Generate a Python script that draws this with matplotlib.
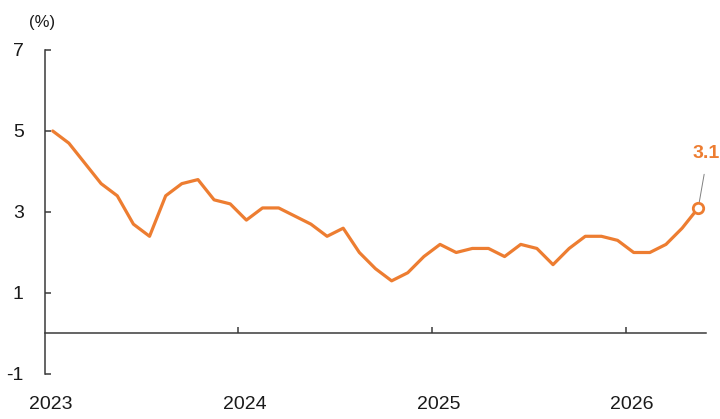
import matplotlib
matplotlib.use("Agg")
import matplotlib.pyplot as plt
import matplotlib.transforms as mtransforms
import numpy as np

plt.rcParams['font.family'] = ['Liberation Sans', 'DejaVu Sans']

# Monthly rate (%), Jan 2023 - May 2026
rate = [5.0, 4.7, 4.2, 3.7, 3.4, 2.7, 2.4, 3.4, 3.7, 3.8, 3.3, 3.2,
        2.8, 3.1, 3.1, 2.9, 2.7, 2.4, 2.6, 2.0, 1.6, 1.3, 1.5, 1.9,
        2.2, 2.0, 2.1, 2.1, 1.9, 2.2, 2.1, 1.7, 2.1, 2.4, 2.4, 2.3,
        2.0, 2.0, 2.2, 2.6, 3.1]
years = [2023, 2024, 2025, 2026]
y_ticks = [-1, 1, 3, 5, 7]

ORANGE = '#ED7D31'
AXIS = '#3a3a3a'

# points sit in the middle of each month slot
months = np.arange(len(rate)) + 0.5

fig = plt.figure(figsize=(7.2, 4.19), dpi=100)
ax = fig.add_axes([0.062, 0.1074, 0.919, 0.7733])

ax.plot(months, rate, color=ORANGE, lw=2.3, solid_joinstyle='round',
        solid_capstyle='round', zorder=3)
ax.plot(months[-1], rate[-1], 'o', ms=7.5, mfc='white', mec=ORANGE,
        mew=2, zorder=4)
ax.annotate(f"{rate[-1]:.1f}", xy=(months[-1], rate[-1]),
            xytext=(-4, 36), textcoords='offset points',
            ha='left', va='baseline', fontsize=14, fontweight='bold',
            color=ORANGE, annotation_clip=False,
            arrowprops=dict(arrowstyle='-', color='#808080', lw=0.7,
                            relpos=(0.5, 0), shrinkA=7, shrinkB=4))

ax.set_xlim(0, 41)
ax.set_ylim(-1, 7)

for side in ('top', 'right'):
    ax.spines[side].set_visible(False)
ax.spines['left'].set_color(AXIS)
ax.spines['left'].set_linewidth(1.1)
ax.spines['bottom'].set_position(('data', 0))
ax.spines['bottom'].set_color(AXIS)
ax.spines['bottom'].set_linewidth(1.1)

ax.set_yticks(y_ticks)
ax.set_yticklabels([str(v) for v in y_ticks])
ax.tick_params(axis='y', direction='in', length=4.5, width=1.1,
               color=AXIS, pad=15, labelsize=14, labelcolor='#1a1a1a')

year_ticks = [12 * k for k in range(len(years))]
ax.set_xticks(year_ticks[1:])
ax.set_xticklabels([])
ax.tick_params(axis='x', direction='in', length=4.5, width=1.1, color=AXIS)

# year labels run along the bottom of the plot, below the zero line
trans = mtransforms.blended_transform_factory(ax.transData, ax.transAxes)
for pos, yr in zip(year_ticks, years):
    ax.text(pos + 0.4, -0.093, str(yr), transform=trans, ha='center',
            va='center', fontsize=14, color='#1a1a1a')

fig.text(42 / 720, 1 - 22 / 419, '(%)', ha='center', va='center',
         fontsize=12, color='#1a1a1a')

fig.savefig('out.png', dpi=100)
